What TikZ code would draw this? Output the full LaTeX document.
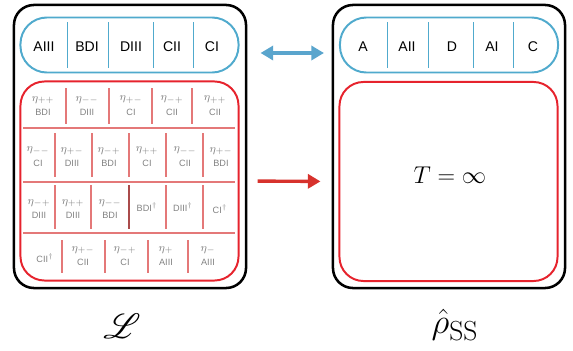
\documentclass[tikz,border=0pt]{standalone}
\usepackage{fontspec}
\setsansfont{Liberation Sans}
\usepackage{amsmath}
\usepackage{mathrsfs}
\usepackage{xcolor}
\usetikzlibrary{arrows.meta}
\definecolor{classblue}{RGB}{80,170,205}
\definecolor{classred}{RGB}{230,35,45}
\definecolor{seplight}{RGB}{228,120,120}
\definecolor{sepdark}{RGB}{170,75,75}
\definecolor{cellgray}{RGB}{130,130,130}
\definecolor{arrowblue}{RGB}{90,165,205}
\definecolor{arrowred}{RGB}{215,50,45}
\newcommand{\etaidx}[1]{{\fontsize{8.5}{10}\selectfont$\eta_{#1}$}}

\begin{document}
\begin{tikzpicture}[x=0.025cm,y=-0.025cm,
  frame/.style={rectangle,draw=black,line width=1.8pt,rounded corners=0.5cm,minimum width=5.8cm,minimum height=7.075cm},
  symbar/.style={rectangle,draw=classblue,line width=1.4pt,rounded corners=0.66cm,minimum width=5.45cm,minimum height=1.375cm},
  liouv/.style={rectangle,draw=classred,line width=1.4pt,rounded corners=0.6cm,minimum width=5.45cm,minimum height=4.975cm},
  kind/.style={font=\sffamily\fontsize{10}{12}\selectfont,inner sep=0pt},
  cell/.style={align=center,text=cellgray,font=\sffamily\fontsize{6.5}{10.5}\selectfont,inner sep=0pt},
  bluesep/.style={draw=classblue,line width=0.7pt},
  sep/.style={draw=seplight,line width=0.8pt},
  conn/.style={line width=2.4pt,-{Triangle[length=9pt,width=10pt]}}]
\useasboundingbox (0,0) rectangle (573,350);
\node at (130,146.5) [frame] (lframe) {};
\node at (449,146.5) [frame] (rframe) {};
\node at (129.5,45) [symbar] (lbar) {};
\node at (449,45) [symbar] (rbar) {};
\node at (129.5,181) [liouv] (lliouv) {};
\node at (448.5,181.5) [liouv] (rliouv) {};
\node at (44,47) [kind] (l1) {AIII};
\node at (87,47) [kind] (l2) {BDI};
\node at (131,47) [kind] (l3) {DIII};
\node at (172,47) [kind] (l4) {CII};
\node at (212,47) [kind] (l5) {CI};
\draw[bluesep] (67,22) -- (67,68);
\draw[bluesep] (108,22) -- (108,68);
\draw[bluesep] (153,22) -- (153,68);
\draw[bluesep] (193,22) -- (193,68);
\node at (363,47) [kind] (r1) {A};
\node at (407,47) [kind] (r2) {AII};
\node at (452,47) [kind] (r3) {D};
\node at (492,47) [kind] (r4) {AI};
\node at (533,47) [kind] (r5) {C};
\draw[bluesep] (387,22) -- (387,68);
\draw[bluesep] (428,22) -- (428,68);
\draw[bluesep] (473,22) -- (473,68);
\draw[bluesep] (513,22) -- (513,68);
\draw[sep] (23,128) -- (235,128);
\draw[sep] (23,182) -- (235,182);
\draw[sep] (23,233) -- (235,233);
\node at (43,106) [cell] (a1) {\etaidx{++}\\BDI};
\node at (87,106) [cell] (a2) {\etaidx{--}\\DIII};
\node at (131,106) [cell] (a3) {\etaidx{+-}\\CI};
\node at (172,106) [cell] (a4) {\etaidx{-+}\\CII};
\node at (215,106) [cell] (a5) {\etaidx{++}\\CII};
\draw[sep] (66,88) -- (66,124);
\draw[sep] (109,88) -- (109,124);
\draw[sep] (152,88) -- (152,124);
\draw[sep] (192,88) -- (192,124);
\node at (38,157) [cell] (b1) {\etaidx{--}\\CI};
\node at (72,157) [cell] (b2) {\etaidx{+-}\\DIII};
\node at (109,157) [cell] (b3) {\etaidx{-+}\\BDI};
\node at (147,157) [cell] (b4) {\etaidx{++}\\CI};
\node at (185,157) [cell] (b5) {\etaidx{--}\\CII};
\node at (221,157) [cell] (b6) {\etaidx{+-}\\BDI};
\draw[sep] (55,133) -- (55,177);
\draw[sep] (92,133) -- (92,177);
\draw[sep] (129,133) -- (129,177);
\draw[sep] (166,133) -- (166,177);
\draw[sep] (203,133) -- (203,177);
\node at (39,209) [cell] (c1) {\etaidx{-+}\\DIII};
\node at (73,209) [cell] (c2) {\etaidx{++}\\DIII};
\node at (110,209) [cell] (c3) {\etaidx{--}\\BDI};
\node at (147,207) [cell] (c4) {BDI$^\dagger$};
\node at (183,207) [cell] (c5) {DIII$^\dagger$};
\node at (220,209) [cell] (c6) {CI$^\dagger$};
\draw[sep] (55,185) -- (55,229);
\draw[sep] (91,185) -- (91,229);
\draw[sepdark,line width=1pt] (129,185) -- (129,229);
\draw[sep] (166,185) -- (166,229);
\draw[sep] (203,185) -- (203,229);
\node at (45,258) [cell] (d1) {CII$^\dagger$};
\node at (83,256) [cell] (d2) {\etaidx{+-}\\CII};
\node at (125,256) [cell] (d3) {\etaidx{-+}\\CI};
\node at (166,256) [cell] (d4) {\etaidx{+}\\AIII};
\node at (208,256) [cell] (d5) {\etaidx{-}\\AIII};
\draw[sep] (62,240) -- (62,273);
\draw[sep] (105,240) -- (105,273);
\draw[sep] (148,240) -- (148,273);
\draw[sep] (188,240) -- (188,273);
\node at (450,175) [inner sep=0pt] (tinf) {\fontsize{16}{19}\selectfont$T=\infty$};
\draw[conn,arrowblue,{Triangle[length=9pt,width=10pt]}-{Triangle[length=9pt,width=10pt]},shorten <=0.525cm,shorten >=0.375cm] ([yshift=-0.2cm]lbar.east) -- ([yshift=-0.2cm]rbar.west);
\draw[conn,arrowred,shorten <=0.45cm,shorten >=0.45cm] (lliouv.east) -- (rliouv.west);
\node at (122,326) [inner sep=0pt] (lname) {\fontsize{28}{34}\selectfont$\mathscr{L}$};
\node at (455,325) [inner sep=0pt] (rname) {\fontsize{28}{34}\selectfont$\hat{\rho}_{\mathrm{SS}}$};
\end{tikzpicture}
\end{document}
